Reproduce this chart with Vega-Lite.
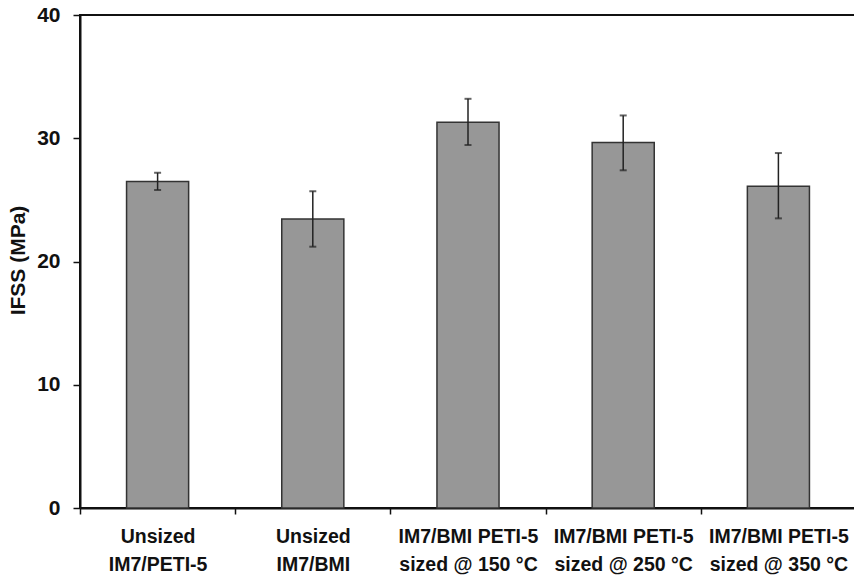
{
  "$schema": "https://vega.github.io/schema/vega-lite/v6.json",
  "width": 776,
  "height": 493,
  "autosize": {"type": "none"},
  "padding": {"left": 80, "top": 15, "right": 0, "bottom": 71},
  "background": "white",
  "config": {
    "font": "Liberation Sans",
    "view": {"stroke": "#111", "strokeWidth": 2},
    "axis": {"domainColor": "#111", "tickColor": "#111", "labelColor": "#111", "titleColor": "#111", "grid": false}
  },
  "data": {
    "values": [
      {"cat": "Unsized|IM7/PETI-5", "ifss": 26.5, "lo": 25.8, "hi": 27.2},
      {"cat": "Unsized|IM7/BMI", "ifss": 23.45, "lo": 21.2, "hi": 25.7},
      {"cat": "IM7/BMI PETI-5|sized @ 150 °C", "ifss": 31.3, "lo": 29.45, "hi": 33.2},
      {"cat": "IM7/BMI PETI-5|sized @ 250 °C", "ifss": 29.65, "lo": 27.4, "hi": 31.85},
      {"cat": "IM7/BMI PETI-5|sized @ 350 °C", "ifss": 26.1, "lo": 23.5, "hi": 28.8}
    ]
  },
  "encoding": {
    "x": {
      "field": "cat", "type": "nominal", "sort": null,
      "scale": {"paddingInner": 0, "paddingOuter": 0},
      "axis": {
        "title": null, "labelAngle": 0, "labelExpr": "split(datum.label, '|')",
        "labelFontSize": 19.5, "labelFontWeight": "bold", "labelLineHeight": 28,
        "labelPadding": 13, "labelBaseline": "top",
        "tickBand": "extent", "tickSize": 6, "tickWidth": 1.5,
        "domainWidth": 2
      }
    }
  },
  "layer": [
    {
      "mark": {"type": "bar", "width": {"band": 0.4}, "fill": "#979797", "stroke": "#333", "strokeWidth": 1.5},
      "encoding": {
        "y": {
          "field": "ifss", "type": "quantitative",
          "scale": {"domain": [0, 40], "nice": false},
          "axis": {
            "values": [0, 10, 20, 30, 40], "title": "IFSS (MPa)",
            "titleFontSize": 21, "titleFontWeight": "bold", "titleX": -62, "titleY": 245,
            "titleAngle": -90, "titleAlign": "center", "titleBaseline": "middle",
            "labelFontSize": 21, "labelFontWeight": "bold", "labelPadding": 13, "tickSize": 7, "tickWidth": 1.5,
            "domainWidth": 2
          }
        }
      }
    },
    {
      "mark": {"type": "rule", "color": "#222", "strokeWidth": 1.5},
      "encoding": {
        "y": {"field": "lo", "type": "quantitative"},
        "y2": {"field": "hi"}
      }
    },
    {
      "mark": {"type": "tick", "color": "#222", "size": 7, "thickness": 2},
      "encoding": {"y": {"field": "lo", "type": "quantitative"}}
    },
    {
      "mark": {"type": "tick", "color": "#222", "size": 7, "thickness": 2},
      "encoding": {"y": {"field": "hi", "type": "quantitative"}}
    }
  ]
}
